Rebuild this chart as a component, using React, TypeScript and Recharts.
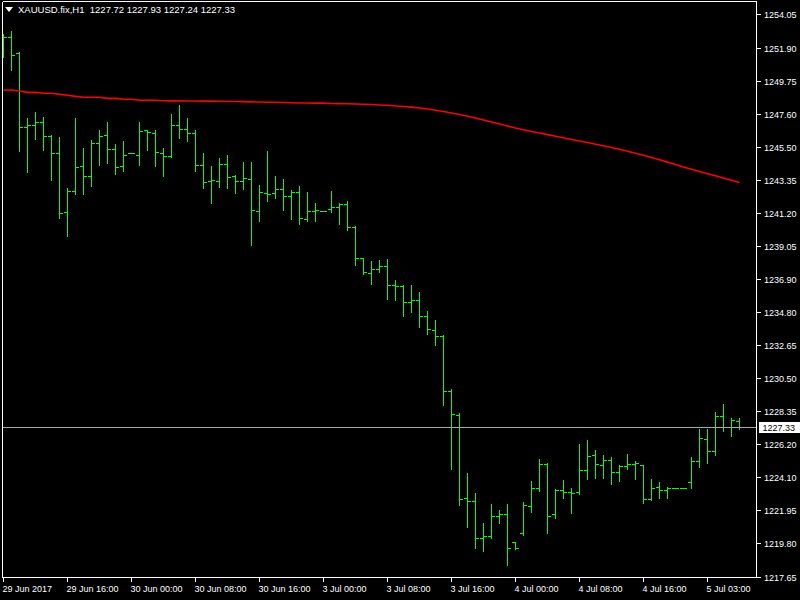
import React from 'react';
import { ComposedChart, Bar, Line, XAxis, YAxis, ReferenceLine } from 'recharts';

const symbolTitle = 'XAUUSD.fix,H1';

const opens = [1252.20, 1252.61, 1251.57, 1246.78, 1246.91, 1247.10, 1246.19, 1245.09, 1241.27, 1242.63,
  1244.25, 1243.60, 1245.74, 1246.26, 1245.35, 1244.25, 1245.09, 1244.96, 1246.58, 1246.39,
  1245.09, 1244.90, 1246.91, 1246.65, 1246.39, 1244.32, 1243.28, 1243.28, 1244.38, 1243.60,
  1243.28, 1243.41, 1241.34, 1242.50, 1242.50, 1242.76, 1242.31, 1242.57, 1240.82, 1241.34,
  1241.34, 1241.47, 1241.60, 1241.79, 1240.30, 1238.29, 1237.32, 1237.58, 1237.77, 1236.54,
  1236.48, 1235.44, 1235.57, 1234.54, 1233.63, 1233.24, 1229.68, 1228.12, 1222.75, 1222.55,
  1220.16, 1220.29, 1221.58, 1221.71, 1219.90, 1220.48, 1222.23, 1223.40, 1224.95, 1221.71,
  1223.27, 1223.14, 1223.14, 1224.56, 1225.53, 1224.89, 1225.21, 1224.43, 1224.82, 1224.95,
  1224.89, 1222.68, 1223.46, 1223.27, 1223.40, 1223.40, 1223.78, 1225.14, 1226.57, 1225.79,
  1228.06, 1227.35, 1227.72];

const highs = [1252.82, 1253.01, 1251.65, 1247.38, 1247.77, 1247.44, 1246.28, 1246.15, 1242.85, 1247.38,
  1245.44, 1245.95, 1246.60, 1247.12, 1245.70, 1245.89, 1245.11, 1247.12, 1246.58, 1246.60,
  1245.44, 1247.64, 1248.22, 1247.38, 1246.60, 1245.11, 1244.27, 1244.79, 1244.98, 1243.69,
  1244.53, 1244.53, 1243.04, 1245.24, 1243.62, 1243.43, 1242.72, 1242.97, 1242.59, 1241.87,
  1241.36, 1242.65, 1241.87, 1242.00, 1240.38, 1238.31, 1238.12, 1238.18, 1238.25, 1236.89,
  1236.56, 1236.56, 1236.11, 1234.88, 1234.30, 1233.32, 1229.83, 1228.27, 1224.39, 1223.09,
  1221.15, 1222.38, 1221.99, 1222.38, 1219.90, 1222.54, 1223.87, 1225.29, 1225.03, 1223.35,
  1223.93, 1223.42, 1226.27, 1226.52, 1225.88, 1225.55, 1225.42, 1224.90, 1225.62, 1225.16,
  1224.89, 1224.00, 1223.80, 1223.48, 1223.42, 1223.42, 1225.42, 1227.24, 1227.24, 1228.34,
  1228.86, 1227.93, 1227.93];

const lows = [1251.35, 1250.49, 1245.26, 1243.88, 1246.04, 1245.31, 1243.36, 1240.90, 1239.74, 1242.46,
  1242.46, 1242.98, 1244.34, 1244.46, 1243.75, 1243.95, 1245.08, 1244.34, 1245.31, 1244.27,
  1243.62, 1244.85, 1246.08, 1245.89, 1243.95, 1242.85, 1241.87, 1242.91, 1242.85, 1242.52,
  1242.78, 1239.15, 1240.71, 1242.00, 1242.20, 1241.42, 1240.84, 1240.51, 1240.71, 1240.71,
  1241.33, 1241.29, 1240.51, 1240.13, 1237.86, 1237.28, 1236.63, 1237.42, 1235.66, 1235.59,
  1234.56, 1234.81, 1233.84, 1233.39, 1232.68, 1228.79, 1224.65, 1222.31, 1220.89, 1219.53,
  1219.33, 1220.18, 1221.15, 1218.43, 1219.48, 1220.37, 1221.86, 1223.22, 1220.50, 1221.47,
  1222.77, 1221.80, 1223.03, 1224.00, 1224.06, 1224.06, 1223.67, 1223.87, 1224.65, 1224.00,
  1222.44, 1222.64, 1222.77, 1222.77, 1223.39, 1223.39, 1223.42, 1224.78, 1225.03, 1225.55,
  1227.13, 1226.80, 1227.24];

const closes = [1252.61, 1251.44, 1246.78, 1246.91, 1247.10, 1246.19, 1245.09, 1241.21, 1242.63, 1244.19,
  1243.60, 1245.74, 1246.19, 1245.35, 1244.19, 1244.96, 1245.09, 1246.52, 1246.45, 1245.16,
  1244.90, 1246.91, 1246.65, 1246.39, 1244.32, 1243.21, 1243.34, 1244.38, 1243.54, 1243.28,
  1243.47, 1241.40, 1242.57, 1242.44, 1242.76, 1242.31, 1242.57, 1240.88, 1241.34, 1241.40,
  1241.34, 1241.60, 1241.79, 1240.30, 1238.29, 1237.39, 1237.58, 1237.77, 1236.54, 1236.48,
  1235.44, 1235.57, 1234.54, 1233.69, 1233.24, 1229.68, 1228.19, 1222.68, 1222.55, 1220.16,
  1220.29, 1221.58, 1221.71, 1219.48, 1219.48, 1222.27, 1223.40, 1224.95, 1221.58, 1223.27,
  1223.14, 1223.07, 1224.56, 1225.47, 1224.95, 1225.21, 1224.43, 1224.82, 1224.95, 1225.02,
  1222.68, 1223.40, 1223.27, 1223.40, 1223.40, 1223.40, 1225.14, 1226.60, 1225.79, 1228.06,
  1227.35, 1227.80, 1227.33];

const movingAverage = [1249.19, 1249.19, 1249.13, 1249.04, 1249.04, 1248.98, 1248.98, 1248.91, 1248.85, 1248.78,
  1248.72, 1248.72, 1248.72, 1248.65, 1248.65, 1248.59, 1248.59, 1248.53, 1248.53, 1248.53,
  1248.50, 1248.49, 1248.49, 1248.48, 1248.48, 1248.47, 1248.47, 1248.46, 1248.45, 1248.45,
  1248.44, 1248.42, 1248.41, 1248.40, 1248.40, 1248.38, 1248.37, 1248.35, 1248.35, 1248.34,
  1248.34, 1248.32, 1248.31, 1248.30, 1248.29, 1248.27, 1248.25, 1248.22, 1248.20, 1248.16,
  1248.12, 1248.08, 1248.03, 1247.96, 1247.88, 1247.80, 1247.70, 1247.60, 1247.49, 1247.38,
  1247.25, 1247.12, 1246.99, 1246.86, 1246.73, 1246.62, 1246.51, 1246.41, 1246.30, 1246.20,
  1246.10, 1245.99, 1245.89, 1245.79, 1245.68, 1245.58, 1245.47, 1245.35, 1245.23, 1245.10,
  1244.96, 1244.82, 1244.67, 1244.52, 1244.36, 1244.21, 1244.06, 1243.91, 1243.77, 1243.64,
  1243.49, 1243.34, 1243.20];

const timeTickIndex = [0, 8, 16, 24, 32, 40, 48, 56, 64, 72, 80, 88];
const timeTickLabels = ['29 Jun 2017', '29 Jun 16:00', '30 Jun 00:00', '30 Jun 08:00', '30 Jun 16:00',
  '3 Jul 00:00', '3 Jul 08:00', '3 Jul 16:00', '4 Jul 00:00', '4 Jul 08:00', '4 Jul 16:00', '5 Jul 03:00'];

const priceTicks = [1254.05, 1251.90, 1249.75, 1247.60, 1245.50, 1243.35, 1241.20, 1239.05, 1236.90,
  1234.80, 1232.65, 1230.50, 1228.35, 1226.20, 1224.10, 1221.95, 1219.80, 1217.65];

const lastBar = closes.length - 1;
const lastClose = closes[lastBar];

const rows = opens.map((o, i) => ({
  i,
  range: [lows[i], highs[i]],
  o,
  h: highs[i],
  l: lows[i],
  c: closes[i],
  ma: movingAverage[i],
}));

const FONT = '"Liberation Sans", Arial, sans-serif';
const W = 800;
const H = 600;
const PLOT_LEFT = 2.5;
const PLOT_TOP = 1.5;
const PLOT_RIGHT = 756.5;
const PLOT_BOTTOM = 577.5;
const X_DOMAIN: [number, number] = [-0.125, 94.125];
const Y_DOMAIN: [number, number] = [1217.618, 1254.924];
const BAR_COLOR = '#00ff00';

const OhlcShape = (props: any) => {
  const { x, y, width, height, payload } = props;
  if (x == null || y == null || !payload) return null;
  const cx = x + width / 2;
  const top = Math.min(y, y + height);
  const bottom = Math.max(y, y + height);
  const span = payload.h - payload.l;
  const k = span > 0 ? (bottom - top) / span : 0;
  const yO = top + (payload.h - payload.o) * k;
  const yC = top + (payload.h - payload.c) * k;
  return (
    <g shapeRendering="crispEdges" stroke={BAR_COLOR} strokeWidth={1}>
      <line x1={cx} x2={cx} y1={top} y2={bottom + 1} />
      <line x1={cx - 3} x2={cx} y1={yO} y2={yO} />
      <line x1={cx} x2={cx + 3.5} y1={yC} y2={yC} />
    </g>
  );
};

const XTick = (props: any) => {
  const { x, payload } = props;
  const idx = timeTickIndex.indexOf(payload.value);
  const label = idx >= 0 ? timeTickLabels[idx] : '';
  return (
    <g>
      <line x1={x} x2={x} y1={PLOT_BOTTOM} y2={PLOT_BOTTOM + 4} stroke="#ffffff" shapeRendering="crispEdges" />
      <text x={x - 1} y={PLOT_BOTTOM + 14.5} fill="#ffffff" fontSize={9} fontFamily={FONT} textAnchor="start">
        {label}
      </text>
    </g>
  );
};

const YTick = (props: any) => {
  const { y, payload } = props;
  const v = payload.value as number;
  if (v === lastClose) {
    return (
      <g>
        <rect x={PLOT_RIGHT + 2} y={y - 5.5} width={W - PLOT_RIGHT - 2} height={11} fill="#ffffff" shapeRendering="crispEdges" />
        <text x={PLOT_RIGHT + 6} y={y + 3.5} fill="#000000" fontSize={9} fontFamily={FONT} textAnchor="start">
          {v.toFixed(2)}
        </text>
      </g>
    );
  }
  return (
    <g>
      <line x1={PLOT_RIGHT} x2={PLOT_RIGHT + 4} y1={y} y2={y} stroke="#ffffff" shapeRendering="crispEdges" />
      <text x={PLOT_RIGHT + 7.5} y={y + 3.5} fill="#ffffff" fontSize={9} fontFamily={FONT} textAnchor="start">
        {v.toFixed(2)}
      </text>
    </g>
  );
};

export default function App() {
  return (
    <div style={{ position: 'absolute', left: 0, top: 0, width: W, height: H, background: '#000000', overflow: 'hidden' }}>
      <ComposedChart
        width={W}
        height={H}
        data={rows}
        margin={{ top: PLOT_TOP, right: 0, bottom: 0, left: PLOT_LEFT }}
      >
        <XAxis
          dataKey="i"
          type="number"
          domain={X_DOMAIN}
          allowDataOverflow
          ticks={timeTickIndex}
          interval={0}
          tick={<XTick />}
          tickLine={false}
          axisLine={{ stroke: '#ffffff', shapeRendering: 'crispEdges' }}
          height={H - PLOT_BOTTOM}
        />
        <YAxis
          orientation="right"
          type="number"
          domain={Y_DOMAIN}
          allowDataOverflow
          ticks={[...priceTicks, lastClose]}
          interval={0}
          tick={<YTick />}
          tickLine={false}
          axisLine={{ stroke: '#ffffff', shapeRendering: 'crispEdges' }}
          width={W - PLOT_RIGHT}
        />
        <ReferenceLine x={X_DOMAIN[0]} stroke="#ffffff" shapeRendering="crispEdges" ifOverflow="visible" />
        <ReferenceLine y={Y_DOMAIN[1]} stroke="#ffffff" shapeRendering="crispEdges" ifOverflow="visible" />
        <ReferenceLine y={lastClose} stroke="#a4aab2" shapeRendering="crispEdges" />
        <Line
          dataKey="ma"
          type="linear"
          stroke="#ff0000"
          strokeWidth={1.6}
          dot={false}
          activeDot={false}
          isAnimationActive={false}
        />
        <Bar dataKey="range" shape={(p: any) => <OhlcShape {...p} />} isAnimationActive={false} />
      </ComposedChart>
      <div
        style={{
          position: 'absolute',
          left: 5,
          top: 4,
          display: 'flex',
          alignItems: 'center',
          color: '#ffffff',
          fontFamily: FONT,
          fontSize: 9.5,
          whiteSpace: 'pre',
          lineHeight: '12px',
        }}
      >
        <svg width={8} height={6} style={{ marginRight: 5 }}>
          <polygon points="0,0 8,0 4,5" fill="#ffffff" />
        </svg>
        <span>{`${symbolTitle}  ${opens[lastBar].toFixed(2)} ${highs[lastBar].toFixed(2)} ${lows[lastBar].toFixed(2)} ${closes[lastBar].toFixed(2)}`}</span>
      </div>
    </div>
  );
}
